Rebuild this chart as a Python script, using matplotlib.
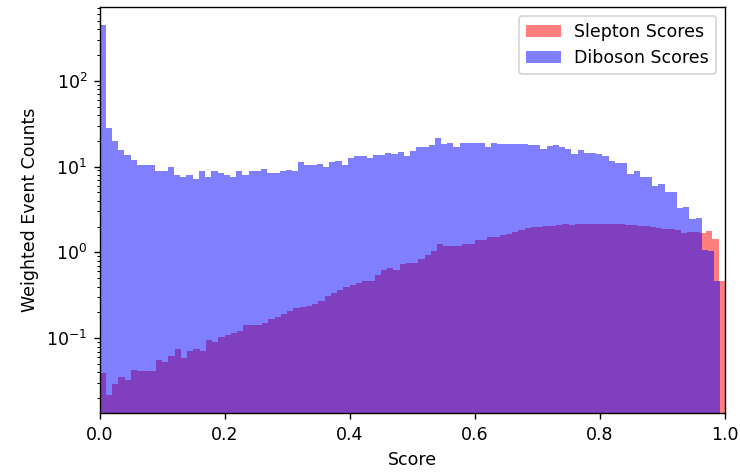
import numpy as np
import matplotlib
matplotlib.use("Agg")
import matplotlib.pyplot as plt

# weighted counts per bin (100 bins)
slepton_counts = [
    0.0394, 0.0217, 0.0292, 0.0355, 0.0325, 0.0432, 0.0417, 0.0417, 0.0417, 0.0555,
    0.053, 0.0617, 0.0757, 0.0596, 0.0711, 0.0757, 0.0711, 0.0964, 0.0905, 0.1035,
    0.108, 0.115, 0.120, 0.1415, 0.1415, 0.1415, 0.151, 0.168, 0.177, 0.193,
    0.207, 0.227, 0.233, 0.238, 0.25, 0.27, 0.31, 0.335, 0.365, 0.40,
    0.42, 0.44, 0.46, 0.46, 0.539, 0.628, 0.651, 0.617, 0.724, 0.757,
    0.757, 0.843, 0.922, 1.035, 1.238, 1.195, 1.195, 1.195, 1.238, 1.26,
    1.377, 1.377, 1.506, 1.506, 1.575, 1.646, 1.72, 1.80, 1.93, 1.95,
    1.97, 2.01, 2.01, 2.06, 2.15, 2.11, 2.17, 2.17, 2.17, 2.17,
    2.17, 2.15, 2.15, 2.13, 2.10, 2.06, 2.03, 2.01, 1.95, 1.92,
    1.88, 1.87, 1.80, 1.69, 1.72, 1.75, 1.70, 1.77, 1.44, 0.47,
]

diboson_counts = [
    445, 27.9, 19.7, 15.4, 13.8, 12.0, 10.3, 10.3, 10.3, 8.8,
    8.8, 9.8, 8.0, 7.65, 8.0, 7.2, 8.8, 7.65, 8.8, 8.45,
    8.0, 7.65, 8.8, 8.0, 8.8, 8.8, 9.4, 8.45, 8.45, 8.8,
    9.2, 8.8, 11.4, 10.3, 10.3, 10.7, 9.8, 11.2, 11.7, 10.3,
    12.6, 13.1, 13.1, 12.6, 13.8, 13.8, 14.4, 14.0, 14.7, 13.2,
    15.3, 16.8, 16.8, 18.0, 21.5, 18.3, 18.8, 17.1, 18.8, 18.8,
    18.8, 18.8, 17.1, 18.6, 18.3, 18.3, 18.3, 18.3, 18.3, 17.9,
    17.9, 16.0, 17.4, 17.9, 16.8, 16.0, 14.0, 15.7, 14.4, 14.4,
    14.0, 13.4, 11.7, 11.0, 11.0, 8.1, 8.8, 7.5, 7.5, 5.9,
    6.2, 5.0, 5.0, 3.27, 3.36, 2.42, 2.53, 1.08, 1.035, 0.46,
]

# diboson scores top out a little below 1, so its bins are slightly narrower
slepton_edges = np.linspace(0.0, 1.0, 101)
diboson_edges = np.linspace(0.0, 0.993, 101)

fig = plt.figure(figsize=(740 / 125, 472 / 125), dpi=125)
ax = fig.add_axes([0.1345, 0.124, 0.845, 0.861])

ax.hist(slepton_edges[:-1], bins=slepton_edges, weights=slepton_counts,
        color='r', alpha=0.5, label='Slepton Scores')
ax.hist(diboson_edges[:-1], bins=diboson_edges, weights=diboson_counts,
        color='b', alpha=0.5, label='Diboson Scores')

ax.set_yscale('log')
ax.set_xlim(0, 1)
ax.set_ylim(0.0133, 720)
ax.set_xlabel('Score')
ax.set_ylabel('Weighted Event Counts')
ax.legend(loc='upper right')

fig.savefig('out.png', dpi=125)
